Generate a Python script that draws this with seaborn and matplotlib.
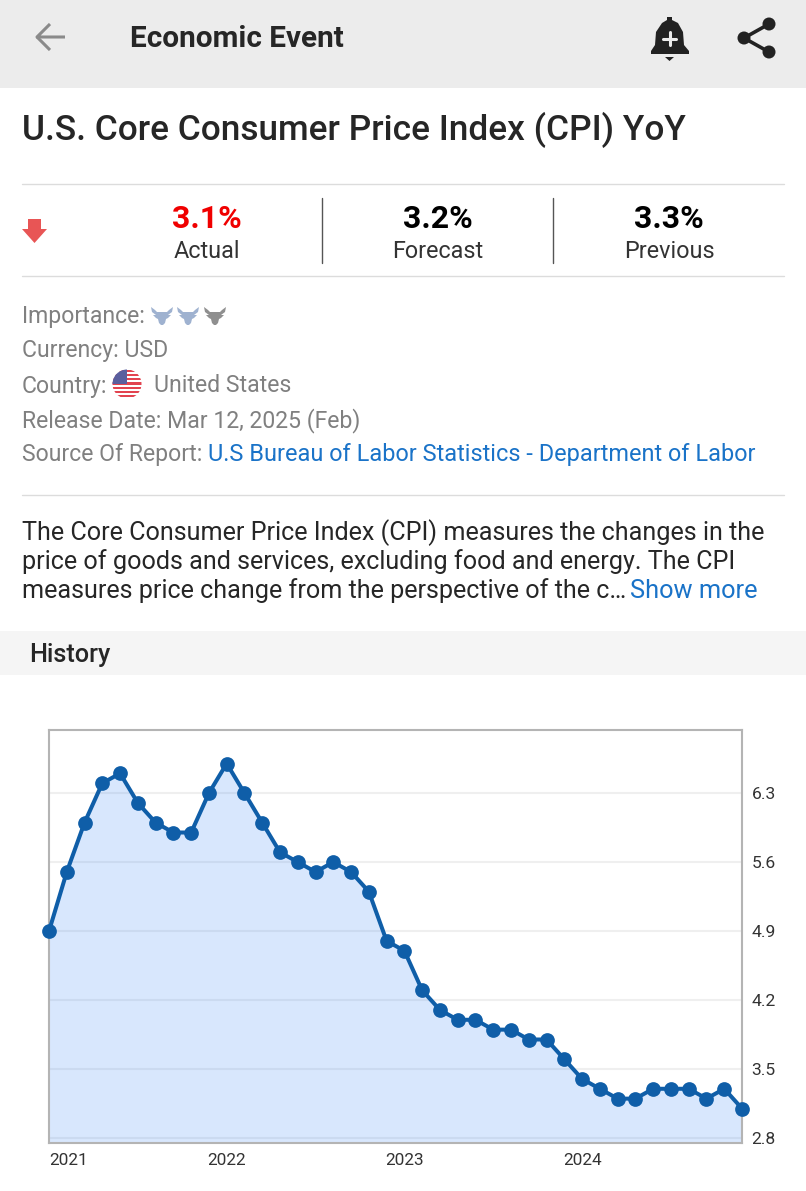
import numpy as np
import pandas as pd
import matplotlib
matplotlib.use('Agg')
import matplotlib.pyplot as plt
from matplotlib.patches import Circle, Polygon, Rectangle
import seaborn as sns

# Datos del grafico
cpi_values = [4.9, 5.5, 6.0, 6.4, 6.5, 6.2, 6.0, 5.9, 5.9, 6.3,
              6.6, 6.3, 6.0, 5.7, 5.6, 5.5, 5.6, 5.5, 5.3, 4.8,
              4.7, 4.3, 4.1, 4.0, 4.0, 3.9, 3.9, 3.8, 3.8, 3.6,
              3.4, 3.3, 3.2, 3.2, 3.3, 3.3, 3.3, 3.2, 3.3, 3.1]
year_labels = ['2021', '2022', '2023', '2024']
year_index = [0, 10, 20, 30]
y_ticks = [2.8, 3.5, 4.2, 4.9, 5.6, 6.3]

W, H = 806, 1191
sns.set_theme(style='white')
plt.rcParams['font.family'] = ['Roboto', 'DejaVu Sans']

fig = plt.figure(figsize=(W / 100, H / 100), dpi=100, facecolor='white')

# Capa de la interfaz en coordenadas de pixel
ui = fig.add_axes([0, 0, 1, 1])
ui.set_xlim(0, W)
ui.set_ylim(H, 0)
ui.axis('off')

GRAY = '#808080'
BLUE = '#1a73c8'
DARK = '#262626'
META = 16.6
BODY = 18.1


def label(x, y, s, size, color=DARK, weight='normal', ha='left'):
    ui.text(x, y + 4, s, fontsize=size, color=color, fontweight=weight, ha=ha, va='center')


def hline(y, x0=22, x1=784):
    ui.plot([x0, x1], [y, y], color='#dcdcdc', lw=1)


ui.add_patch(Rectangle((0, 0), W, 88, color='#ececec', lw=0))
ui.add_patch(Rectangle((0, 631), W, 44, color='#f5f5f5', lw=0))

# Flecha atras
ui.plot([65, 37, 50], [37, 37, 24], color='#8a8a8a', lw=2.2, solid_capstyle='butt')
ui.plot([37, 50], [37, 50], color='#8a8a8a', lw=2.2, solid_capstyle='butt')
label(130, 35, 'Economic Event', 21.4, weight='bold')

# Campana
bell = [(651, 54), (689, 54), (689, 51), (684, 45), (683, 32), (678, 23), (672, 20), (672, 17),
        (667, 17), (667, 20), (662, 23), (656, 32), (655, 45), (651, 51)]
ui.add_patch(Polygon(bell, color='#222222', lw=0))
ui.add_patch(Polygon([(665, 57), (674, 57), (669.5, 61)], color='#222222', lw=0))
ui.plot([669.5, 669.5], [32, 45], color='#ececec', lw=2.2)
ui.plot([663, 676], [38.5, 38.5], color='#ececec', lw=2.2)

# Compartir
ui.plot([769, 744, 769], [24, 38, 52], color='#222222', lw=2.6)
for cx, cy in [(769, 24), (744, 38), (769, 52)]:
    ui.add_patch(Circle((cx, cy), 6.5, color='#222222', lw=0))

label(22, 126, 'U.S. Core Consumer Price Index (CPI) YoY', 25.4, weight='medium')

hline(184)
hline(276)
hline(495)
for x in [322, 553]:
    ui.plot([x, x], [198, 263], color='#555555', lw=1)

# Flecha roja
ui.add_patch(Polygon([(28, 219), (41, 219), (41, 229), (47, 229), (34.5, 243), (22, 229), (28, 229)],
                     color='#e85555', lw=0))

label(207, 215, '3.1%', 23, color='#f00000', weight='bold', ha='center')
label(438, 215, '3.2%', 23, color='#000000', weight='bold', ha='center')
label(669, 215, '3.3%', 23, color='#000000', weight='bold', ha='center')
label(207, 248, 'Actual', 16.8, ha='center', color='#333333')
label(438, 248, 'Forecast', 16.8, ha='center', color='#333333')
label(669, 248, 'Previous', 16.8, ha='center', color='#333333')

label(22, 313, 'Importance:', META, color=GRAY)
label(22, 347, 'Currency: USD', META, color=GRAY)
label(22, 382, 'Country:', META, color=GRAY)
label(154, 382, 'United States', META, color=GRAY)
label(22, 417, 'Release Date: Mar 12, 2025 (Feb)', META, color=GRAY)
label(22, 451, 'Source Of Report:', META, color=GRAY)
label(208, 451, 'U.S Bureau of Labor Statistics - Department of Labor', 16.9, color=BLUE)

# Iconos de importancia
bull = np.array([(-11, -8), (-7, -5), (-5, -3), (5, -3), (7, -5), (11, -8), (10, -3), (6, 0), (9, 0),
                 (6, 3), (4, 4), (3, 8), (1, 10), (-1, 10), (-3, 8), (-4, 4), (-6, 3), (-9, 0), (-6, 0), (-10, -3)])
for cx, col in [(162, '#9fb2d0'), (188, '#9fb2d0'), (215, '#8f8f8f')]:
    ui.add_patch(Polygon(bull + [cx, 315], color=col, lw=0))

# Bandera
disc = Circle((127, 384), 14.5, color='white', lw=0)
ui.add_patch(disc)
for i in range(7):
    st = Rectangle((112, 369.5 + i * 4.3), 30, 2.2, color='#e2434f', lw=0)
    ui.add_patch(st)
    st.set_clip_path(disc)
canton = Rectangle((112, 369), 15, 15, color='#5a5f9e', lw=0)
ui.add_patch(canton)
canton.set_clip_path(disc)

label(22, 529, 'The Core Consumer Price Index (CPI) measures the changes in the', BODY)
label(22, 558, 'price of goods and services, excluding food and energy. The CPI', BODY)
label(22, 587, 'measures price change from the perspective of the c…', BODY)
label(630, 587, 'Show more', 18.3, color=BLUE)
label(29, 651, 'History', 18.2, weight='medium')

# Grafico principal
left, right, top, bottom = 49, 742, 730, 1143
ax = fig.add_axes([left / W, 1 - bottom / H, (right - left) / W, (bottom - top) / H])
df = pd.DataFrame({'month': range(len(cpi_values)), 'value': cpi_values})

ax.set_xlim(0, len(cpi_values) - 1)
ax.set_ylim(2.75, 6.94)
ax.set_facecolor('white')
ax.set_axisbelow(True)
ax.grid(axis='y', color='#efefef', lw=1.5)
ax.fill_between(df['month'], df['value'], 2.75, color='#3c87f5', alpha=0.2, lw=0, zorder=2)
sns.lineplot(data=df, x='month', y='value', ax=ax, color='#0f5ea8', linewidth=2.9,
             marker='o', markersize=10.6, markeredgewidth=0, clip_on=False, zorder=5)

ax.set_xlabel('')
ax.set_ylabel('')
ax.set_xticks(year_index)
ax.set_xticklabels(year_labels, fontsize=12.4, color='#333333')
ax.get_xticklabels()[0].set_ha('left')
ax.yaxis.tick_right()
ax.set_yticks(y_ticks)
ax.set_yticklabels([f'{v:.1f}' for v in y_ticks], fontsize=12.6, color='#333333')
ax.tick_params(axis='both', length=0)
ax.tick_params(axis='x', pad=7)
ax.tick_params(axis='y', pad=7)
for s in ax.spines.values():
    s.set_visible(True)
    s.set_color('#b4b4b4')
    s.set_linewidth(1.5)

fig.savefig('out.png', dpi=100)
